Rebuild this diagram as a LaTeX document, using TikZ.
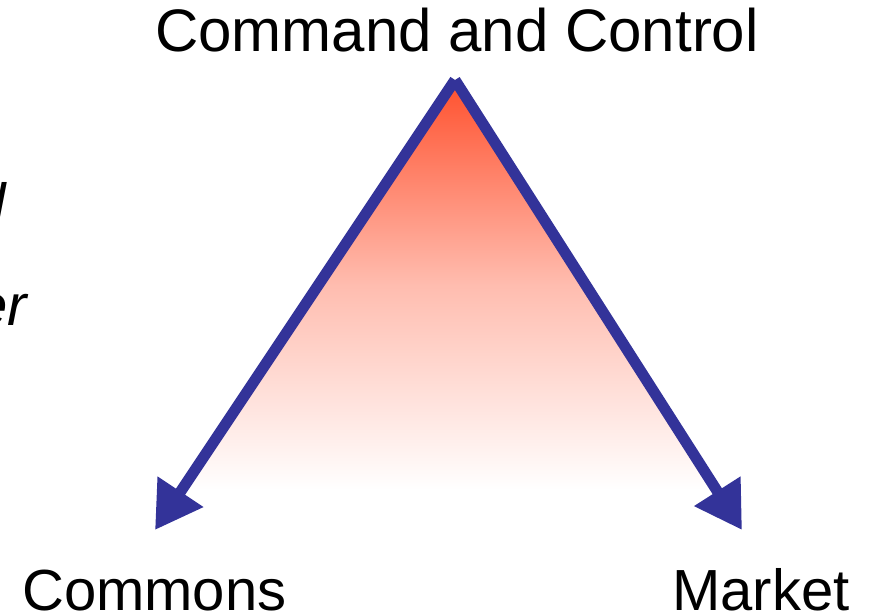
\documentclass[tikz,border=0pt]{standalone}
\usepackage{fontspec}
\setmainfont{Liberation Sans}
\usetikzlibrary{arrows.meta}
\definecolor{linecol}{RGB}{51,51,153}
\definecolor{topcol}{RGB}{255,80,45}
\tikzset{
  lbl/.style={inner sep=0pt, font=\fontsize{58}{60}\selectfont},
  biglbl/.style={inner sep=0pt, font=\fontsize{60}{62}\selectfont},
  itlbl/.style={inner sep=0pt, font=\fontsize{58}{60}\selectfont\itshape},
  axis/.style={draw=linecol, line width=11pt, -{Triangle[length=46pt,width=52pt]}}
}
\begin{document}
\begin{tikzpicture}[x=1pt,y=-1pt]
\useasboundingbox (0,0) rectangle (874,612);
\clip (0,0) rectangle (874,612);
\coordinate (apex) at (455,80);
\coordinate (lt) at (155,530);
\coordinate (rt) at (742,530);
\coordinate (fl) at (185,490);
\coordinate (fr) at (715,490);
\shade[top color=topcol, bottom color=white, middle color=topcol!38] (apex) -- (fl) -- (fr) -- cycle;
\draw[axis] (apex) -- (lt);
\draw[axis] (apex) -- (rt);
\node[biglbl, anchor=base] (cc) at (457,52) {Command and Control};
\node[lbl, anchor=base west] (com) at (22,610) {Commons};
\node[lbl, anchor=base west] (mkt) at (672,610) {Market};
\node[itlbl, anchor=base east] (t1) at (6,225) {d};
\node[itlbl, anchor=base east] (t2) at (27,325) {er};
\end{tikzpicture}
\end{document}
